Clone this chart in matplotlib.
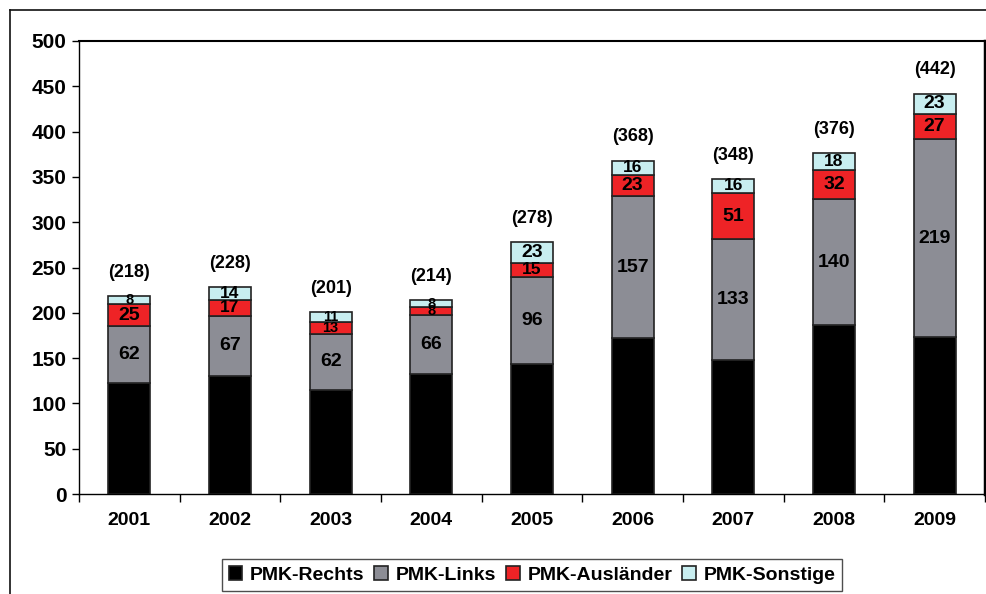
import numpy as np
import matplotlib.pyplot as plt
from matplotlib.lines import Line2D

plt.rcParams['font.family'] = ['Liberation Sans', 'DejaVu Sans']
plt.rcParams['font.weight'] = 'bold'

years = ["2001", "2002", "2003", "2004", "2005", "2006", "2007", "2008", "2009"]
totals = [218, 228, 201, 214, 278, 368, 348, 376, 442]
links = [62, 67, 62, 66, 96, 157, 133, 140, 219]
auslaender = [25, 17, 13, 8, 15, 23, 51, 32, 27]
sonstige = [8, 14, 11, 8, 23, 16, 16, 18, 23]
rechts = [t - l - a - s for t, l, a, s in zip(totals, links, auslaender, sonstige)]

names = ["PMK-Rechts", "PMK-Links", "PMK-Ausländer", "PMK-Sonstige"]
colors = ["#000000", "#8c8d95", "#ee2326", "#c8eef0"]

fig = plt.figure(figsize=(9.87, 5.94), dpi=100)
ax = fig.add_axes([79 / 987, 1 - 494 / 594, 906 / 987, 453 / 594])

x = np.arange(len(years))
w = 0.42
series = [rechts, links, auslaender, sonstige]
bottom = np.zeros(len(years))
for i, (vals, name, col) in enumerate(zip(series, names, colors)):
    vals = np.array(vals)
    ax.bar(x, vals, w, bottom=bottom, color=col, edgecolor="#222222",
           linewidth=1.2, label=name)
    if i > 0:
        for xi, b, v in zip(x, bottom, vals):
            # thin segments get a smaller label
            if v >= 20:
                fs = 14
            elif v >= 14:
                fs = 12.5
            else:
                fs = 10.5
            ax.text(xi, b + v / 2, str(v), ha="center", va="center",
                    fontsize=fs, fontweight="bold")
    bottom = bottom + vals

for xi, t in zip(x, totals):
    ax.annotate(f"({t})", (xi, t), xytext=(0, 17), textcoords="offset points",
                ha="center", va="center", fontsize=13, fontweight="bold")

ax.set_xlim(-0.5, len(years) - 0.5)
ax.set_ylim(0, 500)
ax.set_yticks(range(0, 501, 50))
ax.set_xticks(x)
ax.set_xticklabels(years)
ax.set_xticks(np.arange(-0.5, len(years)), minor=True)
ax.tick_params(axis="x", which="major", length=0, pad=13, labelsize=14)
ax.tick_params(axis="x", which="minor", length=6, direction="out", width=1)
ax.tick_params(axis="y", length=5, width=1, labelsize=15, pad=4)
for lbl in ax.get_xticklabels() + ax.get_yticklabels():
    lbl.set_fontweight("bold")

ax.spines["top"].set_linewidth(1.5)
ax.spines["right"].set_linewidth(2.5)
ax.spines["left"].set_linewidth(1)
ax.spines["bottom"].set_linewidth(1)

# outer chart frame
fig.add_artist(Line2D([10 / 987, 1], [1 - 10 / 594] * 2, color="#111111", lw=1.2))
fig.add_artist(Line2D([10 / 987] * 2, [0, 1 - 10 / 594], color="#111111", lw=1.2))

leg = fig.legend(loc="center", bbox_to_anchor=(532 / 987, 1 - 575 / 594), ncol=4,
                 frameon=True, fancybox=False, edgecolor="#222222",
                 prop={"weight": "bold", "size": 14}, handlelength=0.7,
                 handleheight=0.7, handletextpad=0.4, columnspacing=0.5,
                 borderpad=0.35)
leg.get_frame().set_linewidth(1.0)

fig.savefig("out.png", dpi=100)
